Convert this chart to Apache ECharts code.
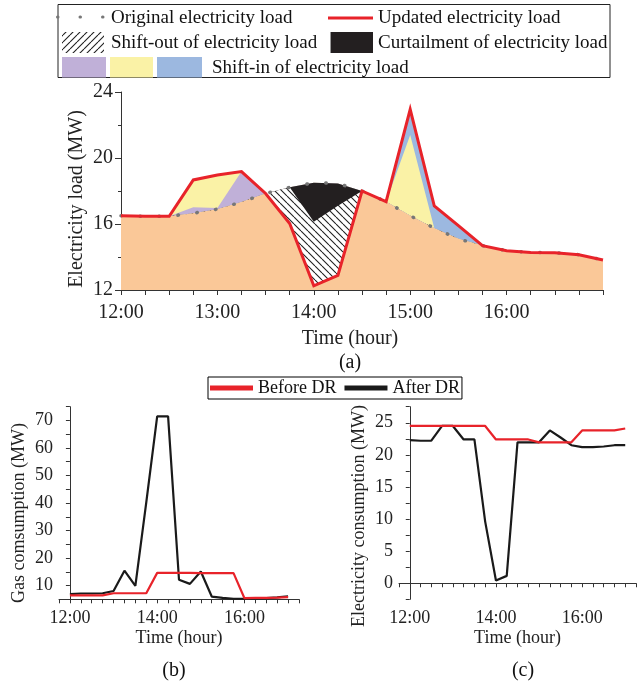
<!DOCTYPE html>
<html><head><meta charset="utf-8">
<script src="https://cdn.jsdelivr.net/npm/echarts@6/dist/echarts.min.js"></script>
<style>html,body{margin:0;padding:0;background:#fff}#c{width:639px;height:684px}</style>
</head><body><div id="c"></div>
<script>
// ---------- data ----------
const times = ['12:00','12:15','12:30','12:45','13:00','13:15','13:30','13:45','14:00','14:15','14:30','14:45','15:00','15:15','15:30','15:45','16:00','16:15','16:30','16:45','17:00'];
const mainTickLabels = ['12:00','13:00','14:00','15:00','16:00'];
const subTickLabels = ['12:00','14:00','16:00'];

// (a) electricity load (MW)
const originalLoad      = [16.5,16.47,16.47,16.65,16.9,17.33,17.85,18.22,18.5,18.46,18.0,17.35,16.5,15.75,15.1,14.69,14.38,14.28,14.26,14.14,13.82];
const updatedLoad       = [16.5,16.47,16.47,18.67,18.97,19.18,17.85,16.03,12.25,12.88,18.0,17.35,22.95,17.09,15.9,14.69,14.38,14.28,14.26,14.14,13.82];
const shiftInPurpleTop  = [16.5,16.47,16.47,17.02,16.97,19.18,17.85,18.22,18.5,18.46,18.0,17.35,16.5,15.75,15.1,14.69,14.38,14.28,14.26,14.14,13.82];
const shiftInYellowTop  = [16.5,16.47,16.47,18.67,18.97,19.18,17.85,18.22,18.5,18.46,18.0,17.35,21.39,15.75,15.1,14.69,14.38,14.28,14.26,14.14,13.82];
const curtailmentBottom = [16.5,16.47,16.47,16.65,16.9,17.33,17.85,18.22,16.14,17.1,18.0,17.35,16.5,15.75,15.1,14.69,14.38,14.28,14.26,14.14,13.82];

// (b) gas consumption (MW)
const gasBeforeDR = [6.4,6.4,6.4,6.4,7.2,7.2,7.2,7.2,14.6,14.6,14.6,14.6,14.5,14.5,14.5,14.5,5.4,5.5,5.5,5.6,5.8];
const gasAfterDR  = [6.9,7.1,7.1,7.2,8.0,15.4,9.9,40.2,71.5,71.5,12.1,10.6,15.1,6.0,5.5,5.2,5.2,5.3,5.4,5.7,6.1];

// (c) electricity consumption (MW)
const elecBeforeDR = [24.5,24.5,24.5,24.5,24.5,24.5,24.5,24.5,22.4,22.4,22.4,22.4,21.95,21.95,21.95,21.95,23.8,23.8,23.8,23.8,24.1];
const elecAfterDR  = [22.3,22.2,22.2,24.5,24.5,22.4,22.4,9.6,0.43,1.15,21.95,21.95,21.95,23.8,22.7,21.5,21.2,21.2,21.3,21.5,21.5];

// ---------- helpers ----------
const FONT = '"Liberation Serif", "Times New Roman", serif';
const RED = '#E8232A', INK = '#1a1a1a', AXIS = '#333';
const C_PEACH = '#FAC898', C_PURPLE = '#C0B0D8', C_YELLOW = '#FAF2A6', C_BLUE = '#9CB8E0', C_BLACK = '#231F20';

function makeHatch(size, back) {
  const c = document.createElement('canvas');
  c.width = c.height = size;
  const g = c.getContext('2d');
  g.fillStyle = '#fff'; g.fillRect(0, 0, size, size);
  g.strokeStyle = '#222'; g.lineWidth = 1.1;
  g.beginPath();
  for (let k = -1; k <= 1; k++) {
    if (back) { g.moveTo(k * size, 0); g.lineTo(k * size + size, size); }
    else { g.moveTo(k * size + size, 0); g.lineTo(k * size, size); }
  }
  g.stroke();
  return c;
}
const hatchChart = { image: makeHatch(7, true), repeat: 'repeat' };
const hatchLegend = { image: makeHatch(7, false), repeat: 'repeat' };

const minutes = times.map(t => { const [h, m] = t.split(':').map(Number); return (h - 12) * 60 + m; });
const lowerEnvelope = originalLoad.map((v, i) => Math.min(v, updatedLoad[i]));

function area(data, color) {
  return { type: 'line', xAxisIndex: 0, yAxisIndex: 0, data, symbol: 'none', silent: true,
    lineStyle: { width: 0, opacity: 0 }, areaStyle: { color, opacity: 1, origin: 'start' } };
}
function pairs(vals) { return minutes.map((m, i) => [m, vals[i]]); }
function timeLabel(v) { const h = 12 + Math.floor(v / 60), m = v % 60; return h + ':' + (m < 10 ? '0' : '') + m; }

const axisLineStyle = { show: true, lineStyle: { color: AXIS, width: 1 } };

const subX = (gi) => ({
  type: 'value', gridIndex: gi, min: -15, max: 315, interval: 15,
  axisLine: axisLineStyle, splitLine: { show: false },
  axisTick: { show: true, length: 4, lineStyle: { color: AXIS } },
  axisLabel: { fontFamily: FONT, fontSize: 18, color: '#222', margin: 10,
    formatter: v => subTickLabels.includes(timeLabel(v)) ? timeLabel(v) : '' },
  name: 'Time (hour)', nameLocation: 'middle', nameGap: 30, nameMoveOverlap: false,
  nameTextStyle: { fontFamily: FONT, fontSize: 18, color: '#222' }
});

const option = {
  animation: false,
  backgroundColor: '#fff',
  grid: [
    { left: 121, right: 36, top: 92, bottom: 394 },
    { left: 59, right: 340, top: 406.7, bottom: 84.7 },
    { left: 399, right: 1, top: 406.7, bottom: 84.7 }
  ],
  xAxis: [
    { type: 'category', gridIndex: 0, data: times, boundaryGap: false,
      axisLine: axisLineStyle,
      axisTick: { show: true, interval: 0, length: 5, lineStyle: { color: AXIS } },
      axisLabel: { interval: (i, v) => mainTickLabels.includes(v), fontFamily: FONT, fontSize: 20, color: '#222', margin: 13 },
      name: 'Time (hour)', nameLocation: 'middle', nameGap: 39, nameMoveOverlap: false,
      nameTextStyle: { fontFamily: FONT, fontSize: 20, color: '#222', padding: [0, 24, 0, 0] } },
    subX(1),
    subX(2)
  ],
  yAxis: [
    { type: 'value', gridIndex: 0, min: 12, max: 24, interval: 4,
      axisLine: axisLineStyle, splitLine: { show: false },
      axisTick: { show: true, length: 6, lineStyle: { color: AXIS } },
      minorTick: { show: true, splitNumber: 2, length: 3, lineStyle: { color: AXIS } },
      axisLabel: { fontFamily: FONT, fontSize: 20, color: '#222', margin: 8 },
      name: 'Electricity load (MW)', nameLocation: 'middle', nameGap: 34, nameMoveOverlap: false,
      nameTextStyle: { fontFamily: FONT, fontSize: 20, color: '#222', padding: [0, 16, 0, 0] } },
    { type: 'value', gridIndex: 1, min: 5, max: 75, interval: 5,
      axisLine: axisLineStyle, splitLine: { show: false },
      axisTick: { show: true, length: 4, lineStyle: { color: AXIS } },
      axisLabel: { fontFamily: FONT, fontSize: 18, color: '#222', margin: 6, formatter: v => (v % 10 === 0 ? String(v) : '') },
      name: 'Gas comsumption (MW)', nameLocation: 'middle', nameGap: 31, nameMoveOverlap: false,
      nameTextStyle: { fontFamily: FONT, fontSize: 18, color: '#222', padding: [0, 20, 0, 0] } },
    { type: 'value', gridIndex: 2, min: -2.5, max: 27.5, interval: 2.5,
      axisLine: axisLineStyle, splitLine: { show: false },
      axisTick: { show: true, length: 4, lineStyle: { color: AXIS } },
      axisLabel: { fontFamily: FONT, fontSize: 18, color: '#222', margin: 6, formatter: v => (v % 5 === 0 ? String(v) : '') },
      name: 'Electricity consumption (MW)', nameLocation: 'middle', nameGap: 31, nameMoveOverlap: false,
      nameTextStyle: { fontFamily: FONT, fontSize: 18, color: '#222', padding: [0, 26, 0, 0] } }
  ],
  legend: {
    data: ['Before DR', 'After DR'], left: 208, top: 377, orient: 'horizontal',
    itemWidth: 43, itemHeight: 5, itemGap: 8, icon: 'rect', selectedMode: false,
    padding: [2, 2, 2, 2], borderColor: '#000', borderWidth: 1,
    textStyle: { fontFamily: FONT, fontSize: 18, color: '#111' }
  },
  series: [
    area(updatedLoad, C_BLUE),
    area(shiftInYellowTop, C_YELLOW),
    area(shiftInPurpleTop, C_PURPLE),
    area(originalLoad, C_BLACK),
    area(curtailmentBottom, hatchChart),
    area(lowerEnvelope, C_PEACH),
    { name: 'Original electricity load', type: 'line', xAxisIndex: 0, yAxisIndex: 0, data: originalLoad, symbol: 'none', silent: true,
      lineStyle: { color: '#777', width: 3.5, type: [0.5, 18.5], cap: 'round' } },
    { name: 'Updated electricity load', type: 'line', xAxisIndex: 0, yAxisIndex: 0, data: updatedLoad, symbol: 'none', silent: true,
      lineStyle: { color: RED, width: 3, join: 'miter' } },

    { name: 'After DR', type: 'line', xAxisIndex: 1, yAxisIndex: 1, data: pairs(gasAfterDR), symbol: 'none',
      itemStyle: { color: INK }, lineStyle: { color: INK, width: 2.2 } },
    { name: 'Before DR', type: 'line', xAxisIndex: 1, yAxisIndex: 1, data: pairs(gasBeforeDR), symbol: 'none',
      itemStyle: { color: RED }, lineStyle: { color: RED, width: 2.2 } },
    { name: 'After DR', type: 'line', xAxisIndex: 2, yAxisIndex: 2, data: pairs(elecAfterDR), symbol: 'none',
      itemStyle: { color: INK }, lineStyle: { color: INK, width: 2.2 } },
    { name: 'Before DR', type: 'line', xAxisIndex: 2, yAxisIndex: 2, data: pairs(elecBeforeDR), symbol: 'none',
      itemStyle: { color: RED }, lineStyle: { color: RED, width: 2.2 } }
  ],
  graphic: [
    { type: 'rect', shape: { x: 58, y: 4.5, width: 552, height: 73 }, style: { fill: 'none', stroke: '#222', lineWidth: 1 } },
    // row 1
    { type: 'line', shape: { x1: 57.5, y1: 17, x2: 106, y2: 17 }, style: { stroke: '#777', lineWidth: 3, lineDash: [0.5, 22], lineCap: 'round' } },
    { type: 'text', x: 111, y: 18, style: { text: 'Original electricity load', fontFamily: FONT, fontSize: 19, fill: '#111', verticalAlign: 'middle' } },
    { type: 'line', shape: { x1: 328, y1: 18, x2: 373, y2: 18 }, style: { stroke: RED, lineWidth: 3 } },
    { type: 'text', x: 378, y: 18, style: { text: 'Updated electricity load', fontFamily: FONT, fontSize: 19, fill: '#111', verticalAlign: 'middle' } },
    // row 2
    { type: 'rect', shape: { x: 62, y: 32, width: 42, height: 21 }, style: { fill: hatchLegend } },
    { type: 'text', x: 111, y: 43, style: { text: 'Shift-out of electricity load', fontFamily: FONT, fontSize: 19, fill: '#111', verticalAlign: 'middle' } },
    { type: 'rect', shape: { x: 331, y: 32, width: 42, height: 21 }, style: { fill: C_BLACK } },
    { type: 'line', shape: { x1: 330.5, y1: 32, x2: 330.5, y2: 53 }, style: { stroke: '#999', lineWidth: 1 } },
    { type: 'text', x: 378, y: 43, style: { text: 'Curtailment of electricity load', fontFamily: FONT, fontSize: 19, fill: '#111', verticalAlign: 'middle' } },
    // row 3
    { type: 'rect', shape: { x: 62, y: 57, width: 44, height: 20.5 }, style: { fill: C_PURPLE } },
    { type: 'rect', shape: { x: 110, y: 57, width: 43, height: 20.5 }, style: { fill: C_YELLOW } },
    { type: 'rect', shape: { x: 157, y: 57, width: 45, height: 20.5 }, style: { fill: C_BLUE } },
    { type: 'text', x: 212, y: 68, style: { text: 'Shift-in of electricity load', fontFamily: FONT, fontSize: 19, fill: '#111', verticalAlign: 'middle' } },
    // panel labels
    { type: 'text', x: 350, y: 363, style: { text: '(a)', fontFamily: FONT, fontSize: 20, fill: '#111', align: 'center', verticalAlign: 'middle' } },
    { type: 'text', x: 174, y: 671, style: { text: '(b)', fontFamily: FONT, fontSize: 20, fill: '#111', align: 'center', verticalAlign: 'middle' } },
    { type: 'text', x: 523, y: 671, style: { text: '(c)', fontFamily: FONT, fontSize: 20, fill: '#111', align: 'center', verticalAlign: 'middle' } }
  ]
};

const chart = echarts.init(document.getElementById('c'), null, { renderer: 'canvas' });
chart.setOption(option);
</script>
</body></html>
